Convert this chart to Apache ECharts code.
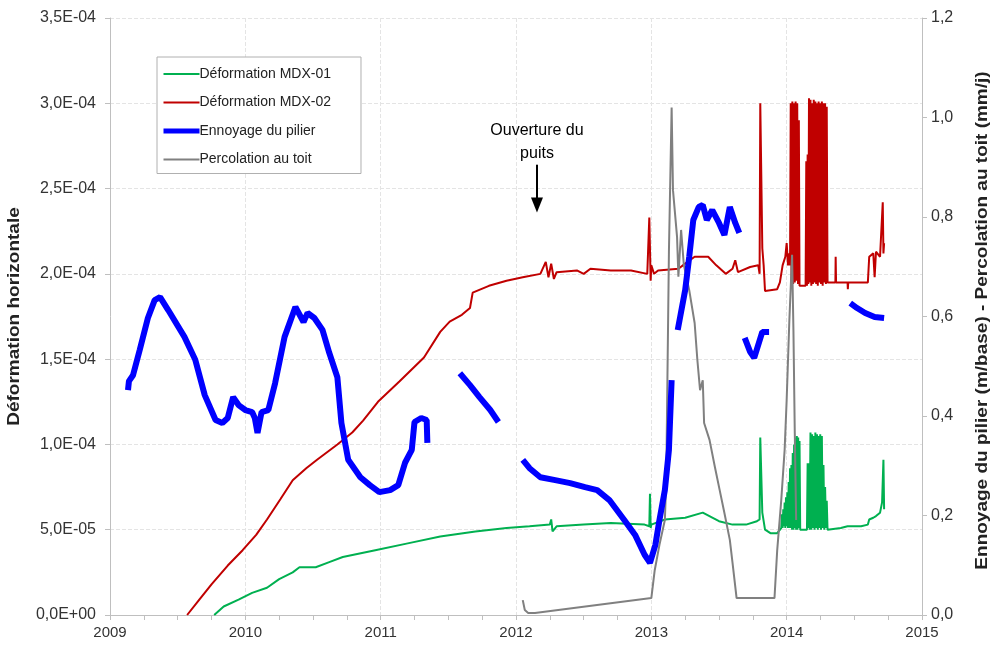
<!DOCTYPE html>
<html><head><meta charset="utf-8">
<script src="https://cdn.jsdelivr.net/npm/echarts@6/dist/echarts.min.js"></script>
<style>html,body{margin:0;padding:0;background:#fff}#c{width:995px;height:651px}</style>
</head><body><div id="c"></div>
<script>
// ---- data (x = decimal year) ----
const xTicks = [2009, 2010, 2011, 2012, 2013, 2014, 2015];
const seriesNames = ['Déformation MDX-01', 'Déformation MDX-02', 'Ennoyage du pilier', 'Percolation au toit'];
const leftTitle = 'Déformation horizontale';
const rightTitle = 'Ennoyage du pilier (m/base) - Percolation au toit (mm/j)';
const annotationText = 'Ouverture du\npuits';
const annotationAt = [2012.155, 2.64e-4, 2.36e-4]; // year, arrow top, arrow tip (left axis units)

const mdx01 = [
 [2009.77,0],[2009.84,5e-6],[2009.95,9e-6],[2010.05,1.3e-5],[2010.16,1.6e-5],[2010.25,2.1e-5],[2010.35,2.5e-5],
 [2010.40,2.8e-5],[2010.52,2.8e-5],[2010.62,3.1e-5],[2010.72,3.4e-5],[2010.96,3.8e-5],[2011.2,4.2e-5],[2011.44,4.6e-5],
 [2011.7,4.9e-5],[2011.93,5.1e-5],[2012.1,5.2e-5],[2012.25,5.3e-5],[2012.26,5.6e-5],[2012.27,4.9e-5],[2012.3,5.2e-5],
 [2012.5,5.3e-5],[2012.7,5.4e-5],[2012.95,5.3e-5],[2012.985,5.2e-5],[2012.99,7.1e-5],[2012.995,5.1e-5],[2013.0,5.3e-5],
 [2013.1,5.6e-5],[2013.25,5.7e-5],[2013.38,6.0e-5],[2013.5,5.5e-5],[2013.6,5.3e-5],[2013.7,5.3e-5],[2013.78,5.5e-5],
 [2013.80,5.6e-5],[2013.805,1.04e-4],[2013.815,1.03e-4],[2013.82,6.0e-5],[2013.84,5.0e-5],[2013.88,4.8e-5],[2013.93,4.8e-5],
 [2013.96,5.1e-5],[2013.965,5.9e-5],[2013.97,5.1e-5],[2013.975,6.2e-5],[2013.98,5.2e-5],[2013.985,6.6e-5],[2013.99,5.1e-5],
 [2013.995,6.9e-5],[2014.0,5.2e-5],[2014.005,7.2e-5],[2014.01,5.1e-5],[2014.015,7.8e-5],[2014.02,5.1e-5],[2014.025,8.6e-5],
 [2014.03,5.1e-5],[2014.035,8.8e-5],[2014.04,5.0e-5],[2014.045,9.5e-5],[2014.05,5.0e-5],[2014.055,1.0e-4],[2014.06,5.1e-5],
 [2014.065,1.04e-4],[2014.07,5.0e-5],[2014.075,1.05e-4],[2014.08,5.0e-5],[2014.085,1.04e-4],[2014.09,5.1e-5],[2014.095,1.02e-4],
 [2014.10,5.0e-5],[2014.15,5.0e-5],[2014.155,8.9e-5],[2014.16,5.1e-5],[2014.165,8.9e-5],[2014.17,5.0e-5],[2014.176,1.07e-4],
 [2014.182,5.0e-5],[2014.188,1.06e-4],[2014.194,5.1e-5],[2014.2,1.05e-4],[2014.206,5.0e-5],[2014.212,1.07e-4],[2014.218,5.1e-5],
 [2014.224,1.06e-4],[2014.23,5.0e-5],[2014.236,1.05e-4],[2014.242,5.1e-5],[2014.248,1.06e-4],[2014.254,5.0e-5],[2014.26,1.05e-4],
 [2014.266,5.1e-5],[2014.272,8.8e-5],[2014.278,5.0e-5],[2014.284,7.5e-5],[2014.29,5.1e-5],[2014.296,6.7e-5],[2014.302,5.0e-5],
 [2014.31,5.1e-5],[2014.4,5.1e-5],[2014.45,5.2e-5],[2014.55,5.2e-5],[2014.6,5.3e-5],[2014.61,5.6e-5],[2014.64,5.7e-5],
 [2014.66,5.8e-5],[2014.69,6.0e-5],[2014.705,6.6e-5],[2014.715,9.1e-5],[2014.72,6.2e-5]
];

const mdx02 = [
 [2009.57,0],[2009.66,9e-6],[2009.75,1.8e-5],[2009.87,2.9e-5],[2009.98,3.8e-5],[2010.08,4.7e-5],[2010.16,5.6e-5],
 [2010.26,6.8e-5],[2010.35,7.9e-5],[2010.45,8.6e-5],[2010.53,9.1e-5],[2010.68,1.0e-4],[2010.79,1.07e-4],[2010.87,1.14e-4],
 [2010.98,1.25e-4],[2011.14,1.37e-4],[2011.32,1.51e-4],[2011.44,1.66e-4],[2011.51,1.72e-4],[2011.6,1.76e-4],[2011.66,1.80e-4],
 [2011.68,1.89e-4],[2011.8,1.93e-4],[2011.93,1.96e-4],[2012.05,1.98e-4],[2012.18,2.0e-4],[2012.22,2.07e-4],[2012.24,1.98e-4],
 [2012.26,2.06e-4],[2012.28,1.97e-4],[2012.3,2.01e-4],[2012.45,2.02e-4],[2012.5,2.0e-4],[2012.55,2.03e-4],[2012.7,2.02e-4],
 [2012.85,2.02e-4],[2012.97,2.0e-4],[2012.985,2.33e-4],[2012.995,1.96e-4],[2013.0,2.05e-4],[2013.02,2.0e-4],[2013.05,2.02e-4],
 [2013.2,2.03e-4],[2013.25,2.06e-4],[2013.32,2.1e-4],[2013.42,2.1e-4],[2013.48,2.05e-4],[2013.55,2.0e-4],[2013.6,2.03e-4],
 [2013.62,2.08e-4],[2013.64,2.01e-4],[2013.73,2.04e-4],[2013.79,2.05e-4],[2013.80,2.0e-4],[2013.805,3.0e-4],[2013.815,3.0e-4],
 [2013.82,2.15e-4],[2013.83,2.05e-4],[2013.84,1.9e-4],[2013.93,1.91e-4],[2013.95,1.95e-4],[2013.97,2.05e-4],[2013.99,2.1e-4],
 [2014.0,2.18e-4],[2014.01,2.05e-4],[2014.02,2.12e-4],[2014.025,2.05e-4],[2014.03,3.0e-4],[2014.036,1.95e-4],[2014.042,3.01e-4],
 [2014.048,1.94e-4],[2014.054,3.0e-4],[2014.06,1.95e-4],[2014.066,3.01e-4],[2014.072,1.96e-4],[2014.078,3.0e-4],[2014.084,1.94e-4],
 [2014.09,2.9e-4],[2014.095,1.93e-4],[2014.14,1.93e-4],[2014.145,2.66e-4],[2014.15,1.93e-4],[2014.155,2.7e-4],[2014.16,1.94e-4],
 [2014.165,3.03e-4],[2014.17,1.95e-4],[2014.176,3.02e-4],[2014.182,1.93e-4],[2014.188,3.0e-4],[2014.194,1.94e-4],[2014.2,3.02e-4],
 [2014.206,1.95e-4],[2014.212,3.01e-4],[2014.218,1.94e-4],[2014.224,3.0e-4],[2014.23,1.93e-4],[2014.236,3.01e-4],[2014.242,1.95e-4],
 [2014.248,3.0e-4],[2014.254,1.94e-4],[2014.26,3.01e-4],[2014.266,1.93e-4],[2014.272,3.0e-4],[2014.278,1.95e-4],[2014.284,3.0e-4],
 [2014.29,1.94e-4],[2014.296,2.98e-4],[2014.302,1.95e-4],[2014.36,1.95e-4],[2014.362,2.1e-4],[2014.365,1.95e-4],[2014.45,1.95e-4],
 [2014.452,1.91e-4],[2014.455,1.95e-4],[2014.6,1.95e-4],[2014.61,2.1e-4],[2014.64,2.12e-4],[2014.65,1.98e-4],[2014.66,2.13e-4],
 [2014.69,2.1e-4],[2014.71,2.42e-4],[2014.715,2.12e-4],[2014.72,2.18e-4]
];

const ennoyage = [
 [2009.133,0.452],[2009.14,0.47],[2009.17,0.482],[2009.22,0.533],[2009.28,0.597],[2009.33,0.633],[2009.37,0.639],[2009.43,0.613],
 [2009.55,0.559],[2009.63,0.513],[2009.70,0.442],[2009.78,0.392],[2009.83,0.386],[2009.87,0.396],[2009.91,0.438],
 [2009.95,0.422],[2010.0,0.412],[2010.05,0.408],[2010.07,0.396],[2010.09,0.366],[2010.12,0.408],[2010.17,0.412],
 [2010.22,0.466],[2010.29,0.559],[2010.37,0.619],[2010.43,0.589],[2010.46,0.607],[2010.51,0.597],[2010.57,0.573],
 [2010.62,0.527],[2010.68,0.478],[2010.71,0.386],[2010.76,0.312],[2010.85,0.277],[2010.92,0.261],[2010.99,0.247],
 [2011.07,0.251],[2011.13,0.261],[2011.18,0.306],[2011.23,0.332],[2011.25,0.388],[2011.30,0.396],[2011.34,0.392],[2011.345,0.346],
 [2011.45,null],
 [2011.585,0.486],[2011.66,0.462],[2011.73,0.438],[2011.81,0.412],[2011.87,0.388],
 [2011.95,null],
 [2012.05,0.312],[2012.10,0.295],[2012.18,0.277],[2012.29,0.271],[2012.40,0.265],[2012.51,0.257],[2012.60,0.251],
 [2012.69,0.231],[2012.80,0.191],[2012.88,0.161],[2012.95,0.121],[2012.99,0.105],[2013.03,0.141],[2013.06,0.191],
 [2013.10,0.251],[2013.13,0.332],[2013.15,0.472],
 [2013.17,null],
 [2013.195,0.573],[2013.25,0.653],[2013.28,0.72],[2013.31,0.794],[2013.35,0.82],[2013.38,0.824],[2013.41,0.794],
 [2013.45,0.814],[2013.50,0.788],[2013.54,0.764],[2013.58,0.82],[2013.62,0.788],[2013.65,0.768],
 [2013.67,null],
 [2013.69,0.557],[2013.73,0.529],[2013.76,0.517],[2013.79,0.543],[2013.82,0.569],[2013.87,0.569],
 [2014.2,null],
 [2014.47,0.627],[2014.52,0.617],[2014.58,0.607],[2014.65,0.599],[2014.72,0.597]
];

const percolation = [
 [2012.05,0.030],[2012.065,0.01],[2012.09,0.004],[2012.14,0.004],[2013.0,0.034],[2013.025,0.09],[2013.06,0.141],
 [2013.10,0.191],[2013.11,0.27],[2013.13,0.73],[2013.15,1.02],[2013.16,0.854],[2013.19,0.76],[2013.20,0.68],[2013.22,0.774],
 [2013.24,0.704],[2013.28,0.653],[2013.32,0.587],[2013.34,0.513],[2013.36,0.452],[2013.38,0.472],[2013.39,0.386],
 [2013.43,0.352],[2013.47,0.297],[2013.505,0.251],[2013.54,0.205],[2013.58,0.151],[2013.60,0.105],[2013.63,0.034],
 [2013.91,0.034],[2013.93,0.13],[2013.96,0.231],[2013.985,0.332],[2014.0,0.432],[2014.02,0.593],[2014.04,0.724],
 [2014.05,0.573],[2014.06,0.366],[2014.07,0.191]
];

// ---- chart ----
const FONT = '"Liberation Sans", Arial, sans-serif';
function sci(v){
  if (Math.abs(v) < 1e-12) return '0,0E+00';
  const e = Math.floor(Math.log10(Math.abs(v)) + 1e-9);
  const m = v / Math.pow(10, e);
  return m.toFixed(1).replace('.', ',') + 'E' + (e < 0 ? '-' : '+') + String(Math.abs(e)).padStart(2, '0');
}
const chart = echarts.init(document.getElementById('c'), null, {renderer: 'canvas'});
const axisGray = '#bfbfbf';
const gridLine = {show: true, lineStyle: {color: '#e4e4e4', type: 'dashed', width: 1}};
const legendColors = ['#00b050', '#c00000', '#0000ff', '#808080'];
const legendWidths = [2, 2, 5, 2];
chart.setOption({
  animation: false,
  backgroundColor: '#fff',
  textStyle: {fontFamily: FONT},
  grid: {left: 110, right: 73, top: 18, bottom: 36, outerBoundsMode: 'none', containLabel: false},
  legend: {
    orient: 'vertical', left: 157, top: 57, padding: [10, 30, 7, 4],
    borderColor: '#b0b0b0', borderWidth: 1, backgroundColor: '#fff',
    itemWidth: 36, itemHeight: 14, itemGap: 14.5,
    itemStyle: {opacity: 0},
    textStyle: {fontSize: 14, color: '#222', fontFamily: FONT, padding: [0,0,0,-5]},
    data: seriesNames.map((n, i) => ({name: n, itemStyle: {opacity: 0}, lineStyle: {color: legendColors[i], width: legendWidths[i], opacity: 1}}))
  },
  xAxis: {
    type: 'value', min: xTicks[0], max: xTicks[xTicks.length-1], interval: 1,
    axisLine: {lineStyle: {color: axisGray}},
    axisTick: {show: true, length: 5, lineStyle: {color: axisGray}},
    minorTick: {show: true, splitNumber: 4, length: 5, lineStyle: {color: axisGray}},
    axisLabel: {color: '#333', fontSize: 15, margin: 10, formatter: v => String(Math.round(v))},
    splitLine: gridLine
  },
  yAxis: [{
    type: 'value', min: 0, max: 3.5e-4, interval: 5e-5, position: 'left',
    axisLine: {show: true, lineStyle: {color: axisGray}},
    axisTick: {show: true, length: 5, lineStyle: {color: axisGray}},
    axisLabel: {color: '#333', fontSize: 16, margin: 14, formatter: sci},
    splitLine: gridLine
  }, {
    type: 'value', min: 0, max: 1.2, interval: 0.2, position: 'right',
    axisLine: {show: true, lineStyle: {color: axisGray}},
    axisTick: {show: true, length: 5, lineStyle: {color: axisGray}},
    axisLabel: {color: '#333', fontSize: 16, margin: 9, formatter: v => v.toFixed(1).replace('.', ',')},
    splitLine: {show: false}
  }],
  series: [
    {name: seriesNames[0], type: 'line', yAxisIndex: 0, data: mdx01, symbol: 'none', color: '#00b050', lineStyle: {width: 2}, z: 2},
    {name: seriesNames[1], type: 'line', yAxisIndex: 0, data: mdx02, symbol: 'none', color: '#c00000', lineStyle: {width: 2}, z: 3},
    {name: seriesNames[3], type: 'line', yAxisIndex: 1, data: percolation, symbol: 'none', color: '#808080', lineStyle: {width: 2}, z: 4},
    {name: seriesNames[2], type: 'line', yAxisIndex: 1, data: ennoyage, symbol: 'none', color: '#0000ff', connectNulls: false, lineStyle: {width: 6}, z: 5}
  ]
});
const pTop = chart.convertToPixel({xAxisIndex: 0, yAxisIndex: 0}, [annotationAt[0], annotationAt[1]]);
const pTip = chart.convertToPixel({xAxisIndex: 0, yAxisIndex: 0}, [annotationAt[0], annotationAt[2]]);
const g0 = chart.convertToPixel({xAxisIndex: 0, yAxisIndex: 0}, [xTicks[0], 0]);
const g1 = chart.convertToPixel({xAxisIndex: 0, yAxisIndex: 0}, [xTicks[xTicks.length-1], 3.5e-4]);
const midY = (g0[1] + g1[1]) / 2;
const titleFont = 'bold 19px "Liberation Sans", Arial, sans-serif';
chart.setOption({
  graphic: [
    {type: 'text', x: g0[0] - 95, y: midY, rotation: Math.PI / 2, scaleY: 0.82,
     style: {text: leftTitle, align: 'center', verticalAlign: 'middle', fill: '#222', font: titleFont}, z: 10},
    {type: 'text', x: g1[0] + 61, y: midY + 4, rotation: Math.PI / 2, scaleY: 0.82,
     style: {text: rightTitle, align: 'center', verticalAlign: 'middle', fill: '#222', font: titleFont}, z: 10},
    {type: 'text', x: pTop[0], y: pTop[1] - 46, style: {text: annotationText, align: 'center', verticalAlign: 'top', lineHeight: 23, fill: '#000', font: '16px "Liberation Sans", Arial, sans-serif'}, z: 10},
    {type: 'line', shape: {x1: pTop[0], y1: pTop[1], x2: pTip[0], y2: pTip[1] - 14}, style: {stroke: '#000', lineWidth: 2}, z: 10},
    {type: 'polygon', shape: {points: [[pTip[0]-6, pTip[1]-15], [pTip[0]+6, pTip[1]-15], [pTip[0], pTip[1]]]}, style: {fill: '#000'}, z: 10}
  ]
});
</script>
</body></html>
